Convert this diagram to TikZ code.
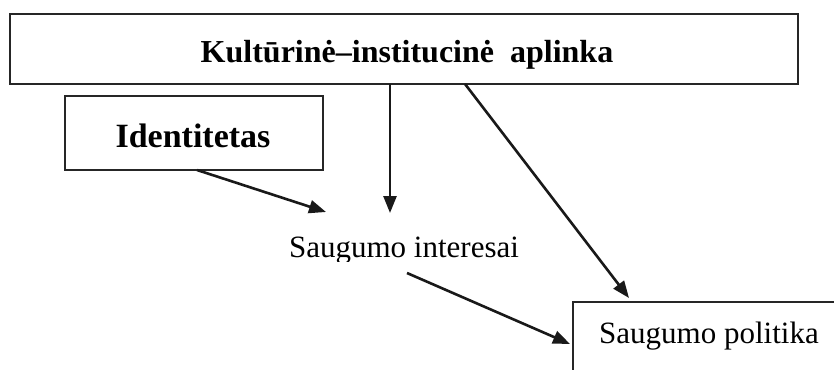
\documentclass[tikz,border=0pt]{standalone}
\usepackage{fontspec}
\setmainfont{Liberation Serif}
\usetikzlibrary{arrows.meta}
\begin{document}
\begin{tikzpicture}[x=1pt,y=-1pt,
  box/.style={draw=black!85, line width=2.2pt, rectangle, inner sep=0pt, outer sep=0pt},
  arr/.style={draw=black!90, line width=2.6pt, -{Triangle[length=17pt,width=13pt]}},
  lbl/.style={inner sep=0pt, anchor=base, font=\fontsize{31}{36}\selectfont},
  blbl/.style={lbl, font=\bfseries\fontsize{32}{38}\selectfont}]
\clip (0,0) rectangle (834,369);
\fill[white] (0,0) rectangle (834,369);
% boxes
\node[box, minimum width=788pt, minimum height=70pt] (kul) at (404,49) {};
\node[box, minimum width=258pt, minimum height=74pt] (ident) at (194,133) {};
\node[box, minimum width=277pt, minimum height=88pt] (pol) at (711.5,346) {};
% labels
\node[blbl] (kultxt) at (407,63) {Kultūrinė–institucinė\ \ aplinka};
\node[blbl, font=\bfseries\fontsize{34}{40}\selectfont] (identtxt) at (193,147) {Identitetas};
\begin{scope}
  \clip (0,0) rectangle (834,261);
  \node[lbl] (si) at (404,257) {Saugumo interesai};
\end{scope}
\node[lbl] (poltxt) at (709,343) {Saugumo politika};
% connector ends
\coordinate (t1) at (390,213);
\coordinate (t2) at (326,212);
\coordinate (s1) at (407,273);
\coordinate (t3) at (570,344);
\coordinate (t4) at (629,298);
% connectors
\draw[arr] (kul.south -| t1) -- (t1);
\draw[arr] ([xshift=3pt]ident.south) -- (t2);
\draw[arr] ([xshift=61pt]kul.south) -- (t4);
\draw[arr] (s1) -- (t3);
\end{tikzpicture}
\end{document}
